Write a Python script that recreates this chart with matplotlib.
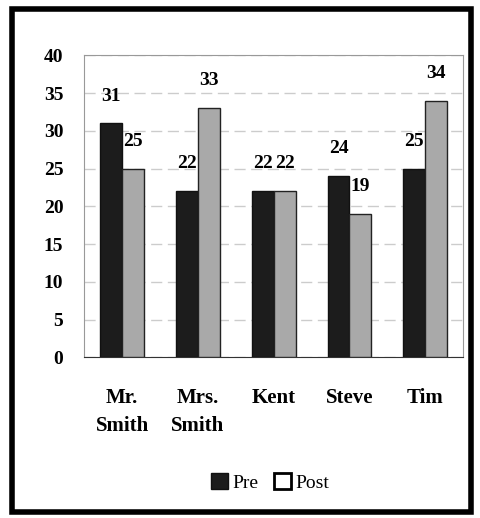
import numpy as np
import matplotlib.pyplot as plt
from matplotlib.patches import Rectangle

names = ["Mr.\nSmith", "Mrs.\nSmith", "Kent", "Steve", "Tim"]
pre = [31, 22, 22, 24, 25]
post = [25, 33, 22, 19, 34]

plt.rcParams['font.family'] = ['Liberation Serif', 'DejaVu Serif']

fig = plt.figure(figsize=(4.81, 5.18), dpi=100)
# border like the scanned frame
fig.patches.append(Rectangle((0.025, 0.012), 0.955, 0.97, transform=fig.transFigure,
                             fill=False, lw=4, ec='black'))

ax = fig.add_axes([0.175, 0.31, 0.788, 0.583])
x = np.arange(len(names))
w = 0.29
ax.bar(x - w/2, pre, w, color='#1c1c1c', edgecolor='#111111', lw=1, zorder=3, label='Pre')
ax.bar(x + w/2, post, w, color='#a9a9a9', edgecolor='#222222', lw=1, zorder=3, label='Post')

for i in range(len(names)):
    ax.text(x[i] - w/2, pre[i] + 2.5, str(pre[i]), ha='center', va='bottom',
            fontsize=14, fontweight='bold')
    ax.text(x[i] + w/2, post[i] + 2.5, str(post[i]), ha='center', va='bottom',
            fontsize=14, fontweight='bold')

ax.set_xlim(-0.5, 4.5)
ax.set_ylim(0, 40)
ax.set_yticks(range(0, 41, 5))
ax.set_xticks(x)
ax.set_xticklabels(names, fontsize=15, fontweight='bold', linespacing=1.55)
ax.tick_params(axis='y', labelsize=14, length=0, pad=15)
ax.tick_params(axis='x', length=0, pad=22)
for lab in ax.get_yticklabels():
    lab.set_fontweight('bold')
ax.yaxis.grid(True, color='#cccccc', lw=1, ls=(0, (8, 4)), zorder=0)
for s in ['top', 'right']:
    ax.spines[s].set_color('#999999')
ax.spines['left'].set_color('#999999')
ax.spines['bottom'].set_color('#333333')

leg = ax.legend(loc='center', bbox_to_anchor=(0.49, -0.415), ncol=2, frameon=False,
                fontsize=14, handlelength=0.9, handleheight=0.9, handletextpad=0.2,
                columnspacing=0.8)
leg.legend_handles[1].set_facecolor('white')
leg.legend_handles[1].set_edgecolor('black')
leg.legend_handles[1].set_linewidth(2)

fig.savefig('out.png', dpi=100)
